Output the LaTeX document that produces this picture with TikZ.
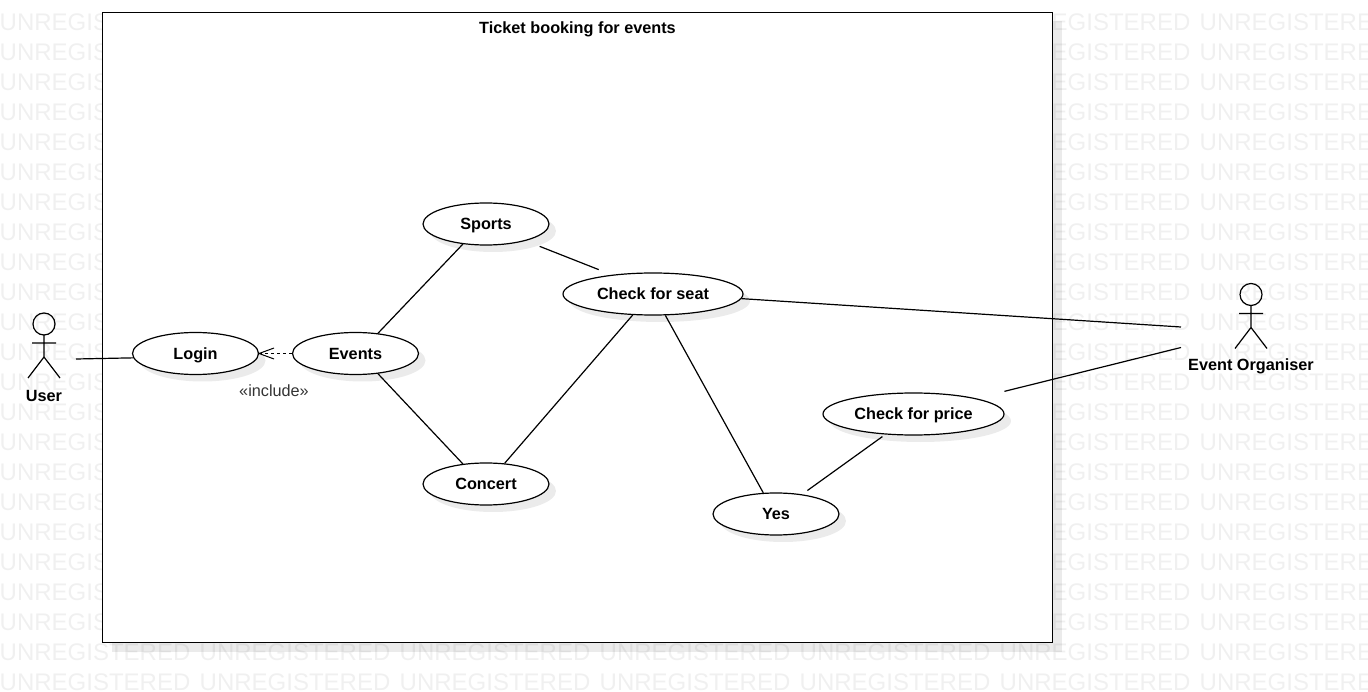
\documentclass[tikz,border=0pt]{standalone}
\usepackage{fontspec}
\setmainfont{Liberation Sans}
\usetikzlibrary{shapes.geometric, arrows.meta, positioning, shadows}
\definecolor{markgray}{HTML}{F0F0F0}
\definecolor{notegray}{HTML}{333333}
\tikzset{
	usecase/.style={ellipse, draw, fill=white, line width=1.2pt, inner sep=0pt, minimum width=126pt, minimum height=42pt, text height=14pt, text depth=2.4pt, font=\fontsize{16.25}{19}\selectfont\bfseries, general shadow={fill=black, opacity=0.08, shadow xshift=7pt, shadow yshift=-7pt}},
	frame/.style={rectangle, draw, fill=white, line width=1.2pt, minimum width=950pt, minimum height=630pt, general shadow={fill=black, opacity=0.08, shadow xshift=9pt, shadow yshift=-9pt}},
	title/.style={font=\fontsize{16.25}{19}\selectfont\bfseries, inner sep=0pt, text height=14pt, text depth=2.4pt},
	note/.style={font=\fontsize{16.25}{19}\selectfont, text=notegray, inner sep=0pt},
	markword/.style={font=\fontsize{24}{28}\selectfont, text=markgray, anchor=west, inner sep=0pt},
	line/.style={draw, line width=1.2pt},
	depend/.style={draw, line width=1pt, dash pattern=on 3pt off 3pt, shorten >=-1.5pt, -{Straight Barb[length=15pt, width=11pt]}},
	stickman/.pic={
		\draw[line width=1.2pt] (0,0) circle (11);
		\draw[line width=1.2pt] (0,11) -- (0,33) (-12,19) -- (12,19) (-16,54) -- (0,33) -- (16,54);
	}
}

\begin{document}
\begin{tikzpicture}[x=1pt, y=-1pt]
	\useasboundingbox (0,0) rectangle (1368,692);
	
	% Background words
	\foreach \col in {0,...,6}
		\foreach \row in {0,...,22}
			\node[markword] (mark\col\row) at ({200*\col-0.5},{22.5+30*\row}) {UNREGISTERED};
	
	% Node for the system boundary
	\node[frame] (boundary) at (577.5,327.5) {};
	\node[title] (boundarytitle) at (577.5,27.5) {Ticket booking for events};
	
	% Actors and their labels
	\pic (userfig) at (44,324) {stickman};
	\pic (organiserfig) at (1251,294.5) {stickman};
	\node[title] (user) at (44,395.5) {User};
	\node[title] (organiser) at (1251,365) {Event Organiser};
	
	% Free ends of the lines near the actors
	\coordinate (userwire) at (76,359);
	\coordinate (organiserseat) at (1181,327);
	\coordinate (organiserprice) at (1181,347.5);
	
	% Use case nodes
	\node[usecase] (login) at (195.5,353.5) {Login};
	\node[usecase] (events) at (355.5,353.5) {Events};
	\node[usecase] (sports) at (486,224) {Sports};
	\node[usecase] (concert) at (486,484) {Concert};
	\node[usecase, minimum width=180pt] (seat) at (653,294) {Check for seat};
	\node[usecase] (yes) at (776,514) {Yes};
	\node[usecase, minimum width=181pt] (price) at (913.5,414) {Check for price};
	
	% Connecting lines
	\path[line] (userwire) -- (login.184);
	\path[depend] (events) -- (login);
	\node[note] (include) at (274,391) {«include»};
	\path[line] (events.42) -- (sports.221);
	\path[line] (events.-42) -- (concert.139);
	\path[line, shorten <=15pt, shorten >=14pt] (sports.-23) -- (seat.155);
	\path[line] (seat.226) -- (concert.48);
	\path[line] (seat.-60) -- (yes.121);
	\path[line, shorten <=6.5pt, shorten >=3.5pt] (yes.37) -- (price.216);
	\path[line] (seat.-3) -- (organiserseat);
	\path[line, shorten <=29pt] (price.14) -- (organiserprice);
\end{tikzpicture}
\end{document}
